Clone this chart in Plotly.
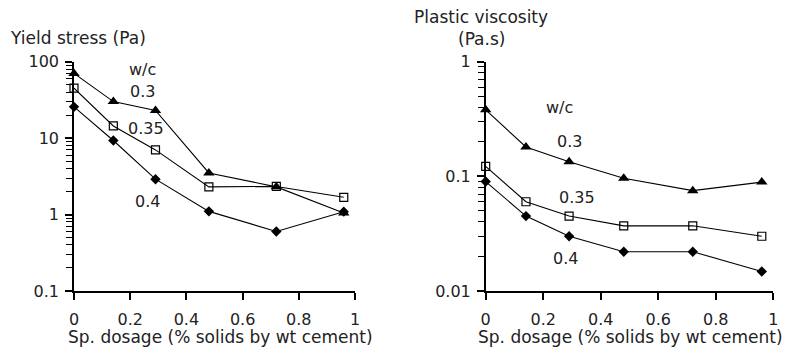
import numpy as np
import plotly.graph_objects as go

# ---- data ----
dosage = [0, 0.14, 0.29, 0.48, 0.72, 0.96]

yield_03 = [70, 30, 23, 3.5, 2.3, 1.05]
yield_035 = [45, 14.4, 7.0, 2.3, 2.33, 1.68]
yield_04 = [25.6, 9.3, 2.9, 1.1, 0.6, 1.09]

visc_03 = [0.38, 0.18, 0.134, 0.096, 0.075, 0.089]
visc_035 = [0.122, 0.060, 0.045, 0.037, 0.037, 0.030]
visc_04 = [0.090, 0.045, 0.030, 0.022, 0.022, 0.0148]

x_ticks = [0, 0.2, 0.4, 0.6, 0.8, 1]
x_ticktext = ["0", "0.2", "0.4", "0.6", "0.8", "1"]
y1_ticks = [0.1, 1, 10, 100]
y1_ticktext = ["0.1", "1", "10", "100"]
y2_ticks = [0.01, 0.1, 1]
y2_ticktext = ["0.01", "0.1", "1"]

FONT = "DejaVu Sans"
TXT = "#222222"

fig = go.Figure()

sizes = {"triangle-up": 10, "square-open": 8, "diamond": 8}
series = [
    ("x", "y", yield_03, "triangle-up"),
    ("x", "y", yield_035, "square-open"),
    ("x", "y", yield_04, "diamond"),
    ("x2", "y2", visc_03, "triangle-up"),
    ("x2", "y2", visc_035, "square-open"),
    ("x2", "y2", visc_04, "diamond"),
]
for xa, ya, vals, sym in series:
    fig.add_trace(go.Scatter(
        x=dosage, y=vals, xaxis=xa, yaxis=ya, mode="lines+markers",
        line=dict(color="black", width=1.1),
        marker=dict(symbol=sym, size=sizes[sym], color="black",
                    line=dict(color="black", width=1.2 if sym == "square-open" else 0)),
        showlegend=False, cliponaxis=False,
    ))

ydom = [(349 - 291) / 349, (349 - 61.6) / 349]
axis_common = dict(showline=True, linecolor="black", linewidth=1.5,
                   ticks="outside", ticklen=7, tickcolor="#000000", tickwidth=1.5,
                   showgrid=False, zeroline=False, automargin=False,
                   tickfont=dict(family=FONT, size=16, color=TXT))
minor_log = dict(ticks="outside", ticklen=6, tickcolor="#000000", tickwidth=1.2,
                 dtick="D1", showgrid=False)

fig.update_layout(
    template="simple_white",
    width=793, height=349,
    margin=dict(l=0, r=0, t=0, b=0, autoexpand=False),
    paper_bgcolor="white", plot_bgcolor="white",
    xaxis=dict(domain=[74 / 793, 355 / 793], range=[0, 1], anchor="y",
               tickmode="array", tickvals=x_ticks, ticktext=x_ticktext,
               ticklabelstandoff=6, **axis_common),
    yaxis=dict(domain=ydom, type="log", range=[-1, 2], anchor="x",
               tickmode="array", tickvals=y1_ticks, ticktext=y1_ticktext,
               ticklabelstandoff=3, minor=minor_log, **axis_common),
    xaxis2=dict(domain=[485.7 / 793, 773.3 / 793], range=[0, 1], anchor="y2",
                tickmode="array", tickvals=x_ticks, ticktext=x_ticktext,
                ticklabelstandoff=6, **axis_common),
    yaxis2=dict(domain=ydom, type="log", range=[-2, 0], anchor="x2",
                tickmode="array", tickvals=y2_ticks, ticktext=y2_ticktext,
                ticklabelstandoff=3, minor=minor_log, **axis_common),
)

def ann(text, x, y, xref, yref, size=16, xanchor="center", yanchor="middle"):
    fig.add_annotation(text=text, x=x, y=y, xref=xref, yref=yref, showarrow=False,
                       xanchor=xanchor, yanchor=yanchor,
                       font=dict(family=FONT, size=size, color=TXT))

# series labels
ann("w/c", 0.245, np.log10(80), "x", "y")
ann("0.3", 0.245, np.log10(41), "x", "y")
ann("0.35", 0.256, np.log10(13.5), "x", "y")
ann("0.4", 0.26, np.log10(1.5), "x", "y")

ann("w/c", 0.256, np.log10(0.40), "x2", "y2")
ann("0.3", 0.291, np.log10(0.20), "x2", "y2")
ann("0.35", 0.316, np.log10(0.065), "x2", "y2")
ann("0.4", 0.278, np.log10(0.0193), "x2", "y2")

# axis titles
ann("Sp. dosage (% solids by wt cement)", 221 / 793, 1 - 337 / 349, "paper", "paper", size=17)
ann("Sp. dosage (% solids by wt cement)", 630 / 793, 1 - 337 / 349, "paper", "paper", size=17)
ann("Yield stress (Pa)", 8 / 793, 1 - 38 / 349, "paper", "paper", size=17, xanchor="left")
ann("Plastic viscosity", 481 / 793, 1 - 17 / 349, "paper", "paper", size=17)
ann("(Pa.s)", 481 / 793, 1 - 38.5 / 349, "paper", "paper", size=17)

fig.write_html("out.html", config={"displayModeBar": False},
               post_script="document.body.style.margin='0px';document.body.style.overflow='hidden';")
